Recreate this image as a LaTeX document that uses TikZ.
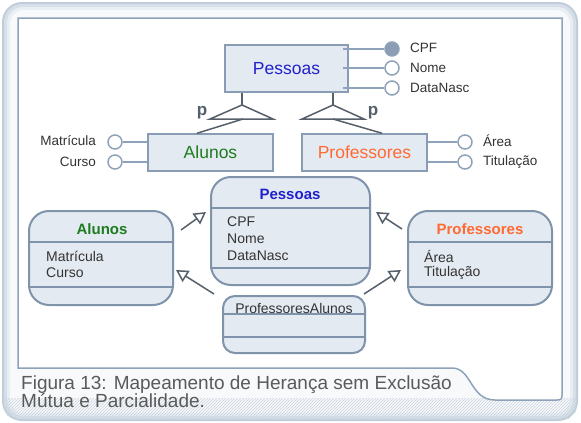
\documentclass[tikz,border=0pt]{standalone}
\usepackage{fontspec}
\setmainfont{Liberation Sans}
\usetikzlibrary{arrows.meta,patterns,calc}
\definecolor{frameA}{HTML}{BFCCDA}
\definecolor{frameB}{HTML}{D6DFE8}
\definecolor{frameC}{HTML}{E9EEF3}
\definecolor{frameD}{HTML}{F7F9FB}
\definecolor{panelline}{HTML}{8EA3B9}
\definecolor{boxfill}{HTML}{E4EAF2}
\definecolor{boxline}{HTML}{8A9CB3}
\definecolor{classline}{HTML}{7F93AB}
\definecolor{txt}{HTML}{333333}
\definecolor{capt}{HTML}{5A5A5A}
\definecolor{dark}{HTML}{56606B}
\definecolor{ptitle}{HTML}{2020CC}
\definecolor{atitle}{HTML}{1E7B1E}
\definecolor{rtitle}{HTML}{FF6A33}
\definecolor{cpf}{HTML}{8C9DB3}
\definecolor{hatch}{HTML}{C9D4DF}
\tikzset{
  erbox/.style={draw=boxline, fill=boxfill, line width=1.5pt, inner sep=0pt},
  attrc/.style={circle, draw=panelline, fill=white, line width=1.5pt, minimum size=14pt, inner sep=0pt},
  attrl/.style={draw=panelline, line width=1.5pt},
  attrtxt/.style={text=txt, font=\fontsize{13.5}{15}\selectfont, inner sep=0pt},
  isa/.style={draw=dark, line width=1.5pt},
  plab/.style={text=dark, font=\fontsize{17}{18}\selectfont\bfseries, inner sep=0pt},
  classbox/.style={draw=classline, fill=boxfill, line width=2pt, rounded corners=20pt, inner sep=0pt},
  sep/.style={draw=classline, line width=2pt},
  ctitle/.style={font=\fontsize{15}{16}\selectfont\bfseries, inner sep=0pt},
  cattr/.style={text=txt, font=\fontsize{14}{15}\selectfont, inner sep=0pt, anchor=west},
  gen/.style={draw=dark, line width=1.5pt, -{Triangle[open, length=12pt, width=13pt, line width=1.5pt]}},
  captxt/.style={anchor=base west, text=capt, font=\fontsize{19}{20}\selectfont, inner sep=0pt},
}
\begin{document}
\begin{tikzpicture}[x=1pt, y=-1pt]
\useasboundingbox (0,0) rectangle (581,423);
% outer frame
\fill[frameA, rounded corners=20pt] (2,2) rectangle (578,421);
\fill[frameB, rounded corners=18pt] (4,4) rectangle (576,419);
\fill[frameC, rounded corners=16pt] (7,7) rectangle (573,416);
\fill[frameD, rounded corners=14pt] (10,10) rectangle (570,413);
\begin{scope}
\clip[rounded corners=14pt] (3,3) rectangle (577,420);
\fill[pattern=north east lines, pattern color=hatch] (3,398) rectangle (577,421);
\end{scope}
% inner panel
\draw[panelline, fill=white, line width=1.5pt] (18,18) -- (18,368) -- (452,368)
  .. controls (472,368) and (470,400) .. (495,400) -- (557,400)
  .. controls (561,400) and (562,399) .. (562,395) -- (562,18) -- cycle;
% caption
\node[captxt] (cap1) at (21,389) {Figura 13: Mapeamento de Herança sem Exclusão};
\node[captxt] (cap2) at (21,407) {Mútua e Parcialidade.};

% ER: Pessoas
\node[erbox, minimum width=123pt, minimum height=47pt, text=ptitle, font=\fontsize{17.5}{18}\selectfont] (pe) at (286.5,68.5) {Pessoas};
\node[attrc, fill=cpf] (a1) at (392,49) {};
\node[attrc] (a2) at (392,68) {};
\node[attrc] (a3) at (392,88) {};
\draw[attrl] ([xshift=-6pt]pe.east |- a1) -- (a1);
\draw[attrl] ([xshift=-6pt]pe.east |- a2) -- (a2);
\draw[attrl] ([xshift=-6pt]pe.east |- a3) -- (a3);
\node[attrtxt, anchor=west] (l1) at (410,48) {CPF};
\node[attrtxt, anchor=west] (l2) at (410,68) {Nome};
\node[attrtxt, anchor=west] (l3) at (410,88) {DataNasc};

% ER: Alunos
\node[erbox, minimum width=125pt, minimum height=37pt, text=atitle, font=\fontsize{17.5}{18}\selectfont] (al) at (210.5,152.5) {Alunos};
\node[attrc] (b1) at (115,142) {};
\node[attrc] (b2) at (115,162) {};
\draw[attrl] (b1) -- (al.west |- b1);
\draw[attrl] (b2) -- (al.west |- b2);
\node[attrtxt, anchor=east] (m1) at (96,141) {Matrícula};
\node[attrtxt, anchor=east] (m2) at (96,162) {Curso};

% ER: Professores
\node[erbox, minimum width=125pt, minimum height=37pt, text=rtitle, font=\fontsize{17.5}{18}\selectfont] (pr) at (364.5,152.5) {Professores};
\node[attrc] (c1) at (465,142) {};
\node[attrc] (c2) at (465,162) {};
\draw[attrl] (pr.east |- c1) -- (c1);
\draw[attrl] (pr.east |- c2) -- (c2);
\node[attrtxt, anchor=west] (n1) at (483,141) {Área};
\node[attrtxt, anchor=west] (n2) at (483,162) {Titulação};

% specialization triangles
\coordinate (t1) at (242,105);
\coordinate (t1l) at (210,119);
\coordinate (t1r) at (273,119);
\coordinate (t1b) at (243,119);
\coordinate (t1c) at (197,134);
\draw[isa] (t1 |- pe.south) -- (t1);
\draw[isa] (t1) -- (t1l) -- (t1r) -- cycle;
\draw[isa] (t1b) -- (t1c |- al.north);
\node[plab] (p1) at (202,113) {p};
\coordinate (t2) at (333,105);
\coordinate (t2l) at (302,119);
\coordinate (t2r) at (364,119);
\coordinate (t2b) at (333,119);
\coordinate (t2c) at (382,134);
\draw[isa] (t2 |- pe.south) -- (t2);
\draw[isa] (t2) -- (t2l) -- (t2r) -- cycle;
\draw[isa] (t2b) -- (t2c |- pr.north);
\node[plab] (p2) at (373,113) {p};

% UML: Pessoas
\node[classbox, minimum width=159pt, minimum height=108pt] (cp) at (290.5,231) {};
\draw[sep] ($(cp.north west)+(0,32)$) -- ($(cp.north east)+(0,32)$);
\draw[sep] ($(cp.south west)+(0,-18)$) -- ($(cp.south east)+(0,-18)$);
\node[ctitle, text=ptitle] (cpt) at (290,194) {Pessoas};
\node[cattr] (cp1) at (227,222) {CPF};
\node[cattr] (cp2) at (227,239) {Nome};
\node[cattr] (cp3) at (227,256) {DataNasc};

% UML: Alunos
\node[classbox, minimum width=144pt, minimum height=94pt] (ca) at (101,258) {};
\draw[sep] ($(ca.north west)+(0,32)$) -- ($(ca.north east)+(0,32)$);
\draw[sep] ($(ca.south west)+(0,-19)$) -- ($(ca.south east)+(0,-19)$);
\node[ctitle, text=atitle] (cat) at (102,229) {Alunos};
\node[cattr] (ca1) at (46,256) {Matrícula};
\node[cattr] (ca2) at (46,273) {Curso};

% UML: Professores
\node[classbox, minimum width=144pt, minimum height=94pt] (cr) at (480,258) {};
\draw[sep] ($(cr.north west)+(0,32)$) -- ($(cr.north east)+(0,32)$);
\draw[sep] ($(cr.south west)+(0,-19)$) -- ($(cr.south east)+(0,-19)$);
\node[ctitle, text=rtitle] (crt) at (480,229) {Professores};
\node[cattr] (cr1) at (424,256) {Área};
\node[cattr] (cr2) at (424,273) {Titulação};

% UML: ProfessoresAlunos
\node[classbox, rounded corners=12pt, minimum width=142pt, minimum height=57pt] (pa) at (294,324.5) {};
\draw[sep] ($(pa.north west)+(0,19)$) -- ($(pa.north east)+(0,19)$);
\draw[sep] ($(pa.south west)+(0,-17)$) -- ($(pa.south east)+(0,-17)$);
\node[text=txt, font=\fontsize{14}{15}\selectfont, inner sep=0pt] (pat) at (294,308) {ProfessoresAlunos};

% generalization arrows
\draw[gen] ([xshift=7pt, yshift=28pt]ca.east) -- ([xshift=-4pt, yshift=19pt]cp.west);
\draw[gen] ([xshift=-8pt, yshift=1pt]pa.north west) -- ([xshift=2pt, yshift=-12pt]ca.east);
\draw[gen] ([xshift=-5pt, yshift=29pt]cr.west) -- ([xshift=5pt, yshift=19pt]cp.east);
\draw[gen] ([xshift=-2pt, yshift=1pt]pa.north east) -- ([xshift=-6pt, yshift=-12pt]cr.west);
\end{tikzpicture}
\end{document}
